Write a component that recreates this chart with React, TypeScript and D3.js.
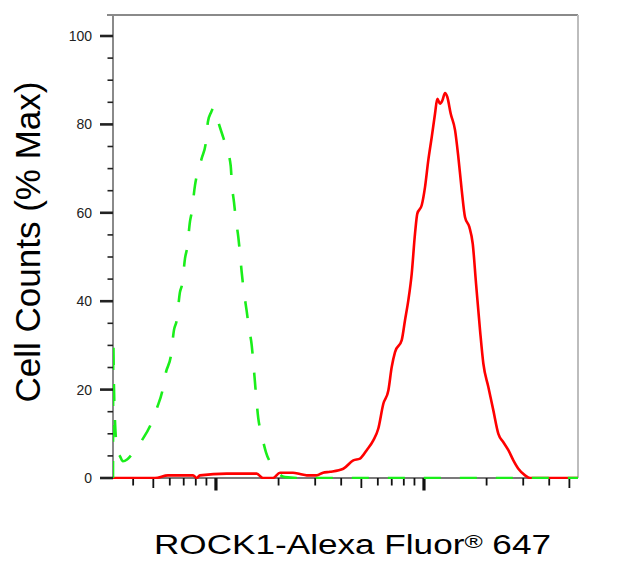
import React from "react";
import * as d3 from "d3";

const W = 625;
const H = 576;

// Y axis ticks (% Max)
const yMajorTicks = [0, 20, 40, 60, 80, 100];
const yMinorStep = 5;

// X axis: log decades
const xDecades = [100, 1000, 10000];
const xMultipliers = [1, 2, 3, 4, 5, 6, 7, 8, 9];

// Control (green, dashed)
const controlX = [320, 321, 323, 327, 331, 336, 346, 357, 374, 395,
  440, 486, 522, 552, 575, 608, 628, 648, 671, 689,
  710, 728, 750, 764, 793, 808, 854, 896, 915, 947,
  979, 1015, 1046, 1085, 1126, 1177, 1194, 1221, 1248, 1281,
  1305, 1330, 1364, 1405, 1441, 1485, 1515, 1540, 1566, 1598,
  1660, 1740, 1859, 1987, 2147, 2535, 55000];
const controlY = [0, 31, 22, 13, 8.5, 6, 4.9, 3.8, 4.2, 5.4,
  8.5, 12.1, 16, 19.6, 23.9, 27.8, 33.4, 35.7, 42, 44,
  49.7, 52.2, 58, 60, 66.2, 68.3, 72.3, 76.2, 80.6, 82.7,
  83.8, 81.3, 79.3, 77, 74.5, 70.7, 66.2, 62.4, 58.3, 54.5,
  50.8, 46.5, 42, 37.8, 33.9, 30.1, 25.7, 21.7, 17.6, 13.5,
  9.7, 5.8, 2.9, 1.1, 0.2, 0, 0];

// ROCK1 (red, solid)
const rockX = [320, 509, 588, 776, 808, 838, 1126, 1570, 1683, 1880,
  2032, 2346, 2535, 2731, 3050, 3270, 3535, 4095, 4574, 4926,
  5305, 5707, 6033, 6377, 6741, 6997, 7258, 7817, 8106, 8409,
  8730, 9055, 9289, 9752, 10115, 10491, 10894, 11298, 11590, 11942,
  12251, 12623, 12947, 13446, 14103, 14627, 15189, 15752, 16519, 17155,
  17793, 18599, 19289, 20389, 21548, 22781, 24079, 25445, 26891, 28421,
  30610, 32355, 55000];
const rockY = [0, 0, 0.6, 0.6, 0, 0.6, 1.0, 1.0, 0, 0,
  1.2, 1.2, 0.9, 0.6, 0.6, 1.2, 1.4, 2.1, 4.0, 4.4,
  6.3, 8.5, 11.2, 16.8, 19.8, 25.1, 28.5, 31.2, 35.7, 40.2,
  46.2, 55.3, 59.8, 61.7, 65.8, 71.9, 77.1, 82.4, 85.8, 84.7,
  85.4, 87.1, 86.2, 82.4, 78.7, 72.6, 65.1, 59, 56.8, 53,
  44, 33.4, 25.9, 20.6, 15.3, 10, 8.1, 6.3, 4, 2.1,
  0.6, 0, 0];

const xTitle = "ROCK1-Alexa Fluor";
const xTitleSup = "®";
const xTitleEnd = " 647";
const yTitle = "Cell Counts (% Max)";

export default function App() {
  const left = 113, right = 578, top = 15, bottom = 478;
  const x = d3.scaleLog().domain([320, 55000]).range([left, right]);
  const y = d3.scaleLinear().domain([0, 100]).range([478, 36]);

  const toPts = (xs: number[], ys: number[]) => xs.map((v, i) => [v, ys[i]] as [number, number]);
  const line = d3.line<[number, number]>().x(d => x(d[0])).y(d => y(d[1])).curve(d3.curveMonotoneX);

  const xTicks: { v: number; kind: string }[] = [];
  xDecades.forEach(dec => xMultipliers.forEach(m => {
    const v = dec * m;
    const [a, b] = x.domain();
    if (v >= a && v <= b) xTicks.push({ v, kind: m === 1 ? "major" : m === 5 ? "mid" : "minor" });
  }));

  const yMinor = d3.range(0, 100 + 0.001, yMinorStep).filter(v => v % 20 !== 0);
  const font = "'Liberation Sans', Arial, Helvetica, sans-serif";

  return (
    <div style={{ position: "absolute", left: 0, top: 0 }}>
      <svg width={W} height={H} style={{ display: "block", background: "#fff" }}>
        <defs>
          <clipPath id="plotclip">
            <rect x={left} y={top} width={right - left} height={bottom - top + 1} />
          </clipPath>
        </defs>
        {/* frame */}
        <line x1={left} x2={left} y1={top} y2={bottom} stroke="#8a8a8a" strokeWidth={2} />
        <line x1={107} x2={right} y1={top} y2={top} stroke="#8a8a8a" strokeWidth={2} />
        <line x1={right} x2={right} y1={top} y2={bottom} stroke="#bdbdbd" strokeWidth={2} />
        <line x1={101} x2={right} y1={bottom} y2={bottom} stroke="#7a7a7a" strokeWidth={2} />

        {/* y ticks */}
        {yMajorTicks.map(t => (
          <g key={"ym" + t}>
            <line x1={100} x2={left} y1={y(t)} y2={y(t)} stroke="#222" strokeWidth={2.6} />
            <text x={92} y={y(t)} dy="0.36em" textAnchor="end" fontFamily={font} fontSize={14} fill="#222">{t}</text>
          </g>
        ))}
        {yMinor.map(t => (
          <line key={"yn" + t} x1={107.5} x2={left} y1={y(t)} y2={y(t)} stroke="#222" strokeWidth={1.6} />
        ))}

        {/* x ticks */}
        {xTicks.map(t => (
          <line key={"xt" + t.v} x1={x(t.v)} x2={x(t.v)} y1={bottom}
            y2={bottom + (t.kind === "major" ? 12.5 : t.kind === "mid" ? 10 : 7.5)}
            stroke="#111" strokeWidth={t.kind === "major" ? 3.2 : 1.8} />
        ))}

        {/* curves */}
        <g clipPath="url(#plotclip)">
          <path d={line(toPts(rockX, rockY)) || ""} fill="none" stroke="#ff0000" strokeWidth={2.6} strokeLinejoin="round" />
          <path d={line(toPts(controlX, controlY)) || ""} fill="none" stroke="#1aee1a" strokeWidth={2.6} strokeDasharray="17,19" />
        </g>

        {/* titles */}
        <text x={154} y={554} fontFamily={font} fontSize={27} fill="#000" textLength={397} lengthAdjust="spacingAndGlyphs">
          {xTitle}
          <tspan fontSize={19} dy={-6}>{xTitleSup}</tspan>
          <tspan dy={6}>{xTitleEnd}</tspan>
        </text>
        <text transform="translate(40,242) rotate(-90)" textAnchor="middle" fontFamily={font} fontSize={35} fill="#000">
          {yTitle}
        </text>
      </svg>
    </div>
  );
}
